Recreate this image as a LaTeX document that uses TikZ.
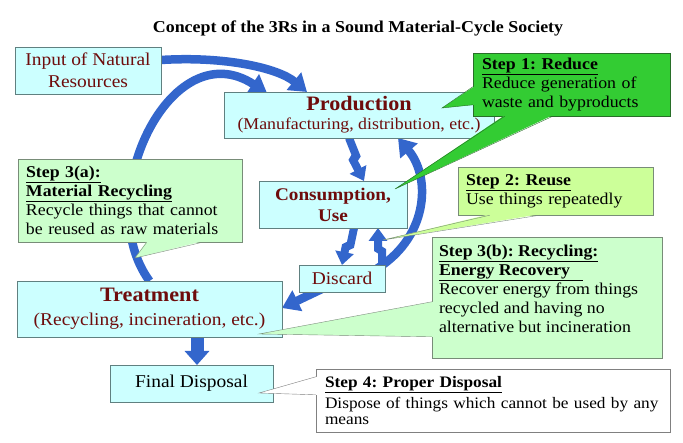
\documentclass[tikz,border=0pt]{standalone}
\usepackage{fontspec}
\setmainfont{Liberation Serif}[FakeStretch=1.08]
\usetikzlibrary{arrows.meta,calc}
\frenchspacing

\definecolor{cycleblue}{RGB}{51,102,204}
\definecolor{boxcyan}{RGB}{204,255,255}
\definecolor{boxline}{RGB}{96,128,128}
\definecolor{labelred}{RGB}{110,12,12}
\definecolor{reducegreen}{RGB}{51,204,51}
\definecolor{reduceline}{RGB}{40,110,40}
\definecolor{reuselime}{RGB}{204,255,153}
\definecolor{recyclegreen}{RGB}{204,255,204}
\definecolor{stepline}{RGB}{120,140,120}

\tikzset{
  flowbox/.style={draw=boxline, fill=boxcyan, inner sep=0pt, align=center, text=labelred},
  stepbox/.style={draw=stepline, inner xsep=8pt, inner ysep=0pt, align=left,
    font=\fontsize{16.5}{19}\selectfont},
  bigflow/.style={draw=cycleblue, line width=8.5pt, -{Triangle[width=22pt,length=17pt]}},
  boltflow/.style={draw=cycleblue, line width=8pt, line join=bevel, -{Triangle[width=18pt,length=13pt]}},
  dropflow/.style={draw=cycleblue, line width=13pt, -{Triangle[width=24pt,length=14pt]}},
}

\begin{document}
\begin{tikzpicture}[x=1pt,y=-1pt]
\useasboundingbox (0,0) rectangle (683,443);

\node (title) at (358,28) {\fontsize{16.6}{19}\selectfont\bfseries Concept of the 3Rs in a Sound Material-Cycle Society};

% places of the boxes
\coordinate (inputpos) at (88,70.5);
\coordinate (prodpos) at (359,115);
\coordinate (conspos) at (333,204.5);
\coordinate (discardpos) at (342,278.5);
\coordinate (treatpos) at (149.5,309);
\coordinate (finalpos) at (191.5,383.5);

% blue flows, under the boxes
\path (inputpos) ++(73,-10.5) coordinate (inputout);
\path (prodpos) ++(-52,-23) coordinate (prodinA);
\path (prodpos) ++(-92,-22) coordinate (prodinB);
\draw [bigflow] (inputout) .. controls (225,56) and (278,68) .. (prodinA);
\draw [bigflow] ($(treatpos)+(0,-28)$) .. controls (90,200) and (170,30) .. (prodinB);
\draw [boltflow] ($(prodpos)+(-10,23)$) -- (357,158) -- (352,158) -- ($(conspos)+(31,-23.5)$);
\draw [boltflow] ($(conspos)+(21,23.5)$) -- (350,247) -- (346,245) -- ($(discardpos)+(0,-13.5)$);
\draw [boltflow] ($(discardpos)+(40,-13.5)$) -- (382,249) -- (378,251) -- ($(conspos)+(45,23.5)$);
\draw [bigflow] ($(discardpos)+(31,-7.5)$) .. controls (428,240) and (432,178) .. ($(prodpos)+(39,23)$);
\draw [bigflow] ($(discardpos)+(-18,9.5)$) -- ($(treatpos)+(132.5,-1)$);
\draw [dropflow] ($(treatpos)+(47.5,28)$) -- ($(finalpos)+(5.5,-18.5)$);

% boxes of the cycle
\node [flowbox, minimum width=146pt, minimum height=47pt, font=\fontsize{18}{22}\selectfont] (input) at (inputpos) {Input of Natural\\Resources};
\node [flowbox, minimum width=270pt, minimum height=46pt, font=\fontsize{16.5}{19}\selectfont] (prod) at (prodpos) {{\fontsize{20.5}{19}\selectfont\bfseries Production}\\(Manufacturing, distribution, etc.)};
\node [flowbox, minimum width=148pt, minimum height=47pt, font=\fontsize{17.8}{21}\selectfont\bfseries] (cons) at (conspos) {Consumption,\\Use};
\node [flowbox, minimum width=86pt, minimum height=27pt, font=\fontsize{18}{22}\selectfont] (discard) at (discardpos) {Discard};
\node [flowbox, minimum width=265pt, minimum height=56pt, font=\fontsize{18}{24}\selectfont] (treat) at (treatpos) {{\fontsize{20.5}{24}\selectfont\bfseries Treatment}\\(Recycling, incineration, etc.)};
\node [flowbox, text=black, minimum width=163pt, minimum height=37pt, font=\fontsize{18}{22}\selectfont] (final) at (finalpos) {Final Disposal};

% the steps
\node [stepbox, fill=reducegreen, draw=reduceline, minimum width=197pt, minimum height=63pt, text width=179pt, inner xsep=9pt] (reduce) at (571.5,84.5) {\underline{\textbf{Step 1: Reduce}}\\Reduce generation of\\waste and byproducts};
\node [stepbox, fill=recyclegreen, minimum width=224pt, minimum height=83pt, text width=208pt] (material) at (130,200.5) {\underline{\textbf{Step 3(a):}}\\\underline{\textbf{Material Recycling}}\\Recycle things that cannot\\be reused as raw materials};
\node [stepbox, fill=reuselime, minimum width=195pt, minimum height=48pt, text width=179pt] (reuse) at (555.5,191) {\underline{\textbf{Step 2: Reuse}}\\Use things repeatedly};
\node [stepbox, fill=recyclegreen, inner xsep=7pt, inner ysep=8pt] (energy) at (547,297.5) {\parbox[c][105pt][t]{216pt}{\raggedright\underline{\textbf{Step 3(b): Recycling:}}\\\underline{\textbf{Energy Recovery}\ \ \ }\\Recover energy from things\\recycled and having no\\alternative but incineration}};
\node [stepbox, fill=white, draw=gray, minimum width=354pt, minimum height=63pt, text width=346pt, inner xsep=4pt, font=\fontsize{16}{16}\selectfont] (disposal) at (493,400.5) {\hspace*{5pt}\underline{\textbf{Step 4: Proper Disposal}}\\[4pt]\hspace*{5pt}\mbox{Dispose of things which cannot be used by any}\\\hspace*{5pt}means};

% pointers of the steps
\coordinate (reducetipA) at (442,108);
\coordinate (reducetipB) at (395,189);
\coordinate (reusetip) at (383,240);
\coordinate (materialtip) at (135,258);
\coordinate (energytip) at (259,334);
\coordinate (disposaltip) at (259,393);

\fill [reducegreen] ($(reduce.north west)+(1,34)$) -- (reducetipA) -- ($(reduce.north west)+(1,52)$) -- cycle;
\draw [reduceline] ($(reduce.north west)+(0,34)$) -- (reducetipA) -- ($(reduce.north west)+(0,52)$);
\fill [reducegreen] ($(reduce.south west)+(32,-1)$) -- (reducetipB) -- ($(reduce.south west)+(80,-1)$) -- cycle;
\draw [reduceline] ($(reduce.south west)+(32,0)$) -- (reducetipB) -- ($(reduce.south west)+(80,0)$);
\fill [reuselime] ($(reuse.south west)+(32,-1)$) -- (reusetip) -- ($(reuse.south west)+(82,-1)$) -- cycle;
\draw [stepline] ($(reuse.south west)+(32,0)$) -- (reusetip) -- ($(reuse.south west)+(82,0)$);
\fill [recyclegreen] ($(material.south west)+(129,-1)$) -- (materialtip) -- ($(material.south west)+(185,-1)$) -- cycle;
\draw [stepline] ($(material.south west)+(129,0)$) -- (materialtip) -- ($(material.south west)+(185,0)$);
\fill [recyclegreen] ($(energy.north west)+(1,65)$) -- (energytip) -- ($(energy.north west)+(1,100)$) -- cycle;
\draw [stepline] ($(energy.north west)+(0,65)$) -- (energytip) -- ($(energy.north west)+(0,100)$);
\fill [white] ($(disposal.north west)+(1,8)$) -- (disposaltip) -- ($(disposal.north west)+(1,26)$) -- cycle;
\draw [gray] ($(disposal.north west)+(0,8)$) -- (disposaltip) -- ($(disposal.north west)+(0,26)$);
\end{tikzpicture}
\end{document}
